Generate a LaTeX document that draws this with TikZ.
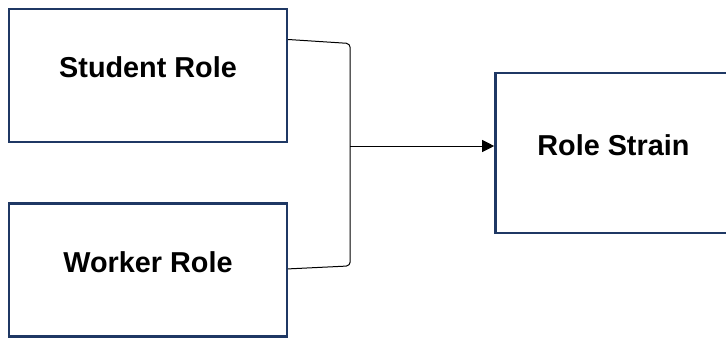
\documentclass[tikz,border=0pt]{standalone}
\usepackage{fontspec}
\setmainfont{Liberation Sans}
\usetikzlibrary{arrows.meta, positioning}
\definecolor{boxblue}{RGB}{31,56,100}

\begin{document}
\begin{tikzpicture}
\tikzset{role/.style={rectangle, draw=boxblue, line width=1.2pt, align=center,
			minimum width=139pt, minimum height=66.5pt,
			text height=11pt, text depth=8.6pt,
			font=\fontsize{14.4}{17}\selectfont\bfseries},
		strain/.style={role, minimum width=118pt, minimum height=80pt},
		link/.style={draw=black, line width=0.5pt, rounded corners=2pt}}
\useasboundingbox (0,0) rectangle (363pt,-169pt);
\node[role] (SR) at (74pt,-37.75pt) {Student Role};
\node[role, below=29.5pt of SR] (WR) {Worker Role};
\node[strain, below right=32pt and 103pt of SR.north east] (RS) {Role Strain};
\coordinate (top) at ([xshift=31pt, yshift=16pt]SR.east);
\coordinate (bot) at ([xshift=31pt, yshift=2pt]WR.east);
\coordinate (mid) at ([yshift=3.5pt]top |- RS.west);
\draw[link] ([yshift=18pt]SR.east) -- (top) -- (bot) -- ([yshift=0.5pt]WR.east);
\draw[line width=0.5pt, -{Triangle[length=6pt, width=6pt]}] (mid) -- (mid -| RS.west);
\end{tikzpicture}
\end{document}
